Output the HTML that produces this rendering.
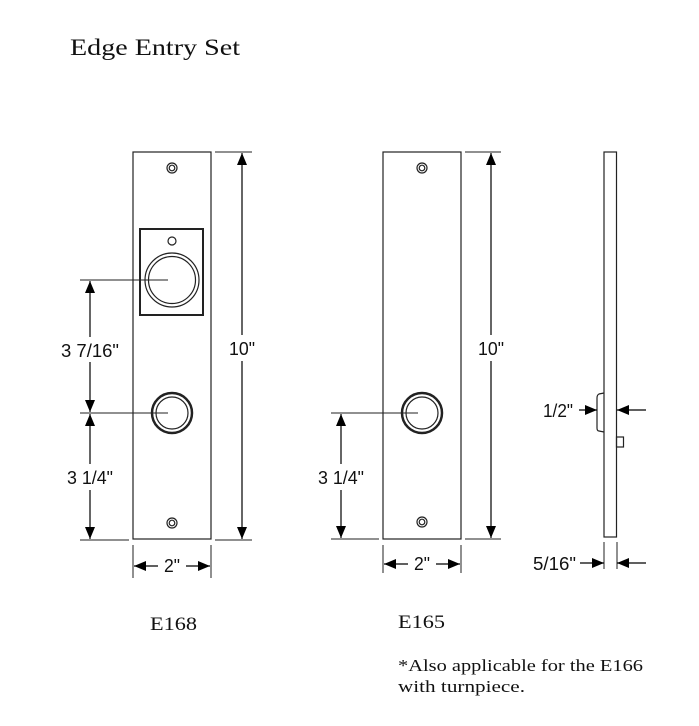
<!DOCTYPE html>
<html><head><meta charset="utf-8"><style>
html,body{margin:0;padding:0;background:#fff;width:699px;height:726px;overflow:hidden}
svg{display:block}
.s{font-family:"Liberation Serif",serif;fill:#111}
.d{font-family:"Liberation Sans",sans-serif;font-size:18px;fill:#111}
</style></head><body>
<svg width="699" height="726" viewBox="0 0 699 726" xmlns="http://www.w3.org/2000/svg">
<defs>
<marker id="a" viewBox="0 0 12 10" refX="12" refY="5" markerWidth="12" markerHeight="10" markerUnits="userSpaceOnUse" orient="auto-start-reverse"><path d="M0,0L12,5L0,10Z" fill="#000"/></marker>
</defs>
<text class="s" x="70" y="55" font-size="23" textLength="170" lengthAdjust="spacingAndGlyphs">Edge Entry Set</text>

<g stroke="#222" fill="none" stroke-width="1.2">
<rect x="133" y="152" width="78" height="387"/>
<circle cx="172" cy="168" r="5"/><circle cx="172" cy="168" r="2.8"/>
<rect x="140" y="229" width="63" height="86" stroke-width="2"/>
<circle cx="172" cy="241" r="4"/>
<circle cx="172" cy="280" r="27"/><circle cx="172" cy="280" r="23.5"/>
<circle cx="172" cy="413" r="20" stroke-width="2.5"/><circle cx="172" cy="413" r="16"/>
<circle cx="172" cy="523" r="5"/><circle cx="172" cy="523" r="2.8"/>
<line x1="80" y1="280" x2="168" y2="280" stroke-width="1"/>
<line x1="80" y1="413" x2="168" y2="413" stroke-width="1"/>
<line x1="80" y1="540" x2="129" y2="540" stroke-width="1"/>
<line x1="215" y1="152" x2="252" y2="152" stroke-width="1"/>
<line x1="215" y1="540" x2="252" y2="540" stroke-width="1"/>
<line x1="133" y1="545" x2="133" y2="578" stroke-width="1"/>
<line x1="211" y1="545" x2="211" y2="578" stroke-width="1"/>
<rect x="383" y="152" width="78" height="387"/>
<circle cx="422" cy="168" r="5"/><circle cx="422" cy="168" r="2.8"/>
<circle cx="422" cy="413" r="20" stroke-width="2.5"/><circle cx="422" cy="413" r="16"/>
<circle cx="422" cy="522" r="5"/><circle cx="422" cy="522" r="2.8"/>
<line x1="331" y1="413" x2="418" y2="413" stroke-width="1"/>
<line x1="331" y1="539" x2="379" y2="539" stroke-width="1"/>
<line x1="465" y1="152" x2="501" y2="152" stroke-width="1"/>
<line x1="465" y1="539" x2="501" y2="539" stroke-width="1"/>
<line x1="383" y1="545" x2="383" y2="573" stroke-width="1"/>
<line x1="461" y1="545" x2="461" y2="573" stroke-width="1"/>
<rect x="604" y="152" width="12.5" height="385"/>
<path d="M604,393 L599,394 Q597,395 597,398 L597,428 Q597,431 599,431 L604,432"/>
<rect x="616.5" y="437" width="7" height="10"/>
<line x1="604" y1="542" x2="604" y2="569" stroke-width="1"/>
<line x1="617" y1="542" x2="617" y2="569" stroke-width="1"/>
</g>

<g stroke="#000" stroke-width="1.2" fill="none">
<line x1="90" y1="337" x2="90" y2="281" marker-end="url(#a)"/>
<line x1="90" y1="362" x2="90" y2="412" marker-end="url(#a)"/>
<line x1="90" y1="464" x2="90" y2="414" marker-end="url(#a)"/>
<line x1="90" y1="490" x2="90" y2="539" marker-end="url(#a)"/>
<line x1="242" y1="335" x2="242" y2="153" marker-end="url(#a)"/>
<line x1="242" y1="361" x2="242" y2="539" marker-end="url(#a)"/>
<line x1="158" y1="566" x2="134" y2="566" marker-end="url(#a)"/>
<line x1="186" y1="566" x2="210" y2="566" marker-end="url(#a)"/>
<line x1="341" y1="464" x2="341" y2="414" marker-end="url(#a)"/>
<line x1="341" y1="490" x2="341" y2="538" marker-end="url(#a)"/>
<line x1="491" y1="335" x2="491" y2="153" marker-end="url(#a)"/>
<line x1="491" y1="361" x2="491" y2="538" marker-end="url(#a)"/>
<line x1="408" y1="564" x2="384" y2="564" marker-end="url(#a)"/>
<line x1="436" y1="564" x2="460" y2="564" marker-end="url(#a)"/>
<line x1="579" y1="410" x2="597" y2="410" marker-end="url(#a)"/>
<line x1="646" y1="410" x2="617" y2="410" marker-end="url(#a)"/>
<line x1="580" y1="563" x2="604" y2="563" marker-end="url(#a)"/>
<line x1="646" y1="563" x2="617" y2="563" marker-end="url(#a)"/>
</g>

<g class="d">
<text x="61" y="357" textLength="58" lengthAdjust="spacingAndGlyphs">3 7/16"</text>
<text x="67" y="484" textLength="46" lengthAdjust="spacingAndGlyphs">3 1/4"</text>
<text x="229" y="355" textLength="26" lengthAdjust="spacingAndGlyphs">10"</text>
<text x="164" y="572" textLength="16" lengthAdjust="spacingAndGlyphs">2"</text>
<text x="318" y="484" textLength="46" lengthAdjust="spacingAndGlyphs">3 1/4"</text>
<text x="478" y="355" textLength="26" lengthAdjust="spacingAndGlyphs">10"</text>
<text x="414" y="570" textLength="16" lengthAdjust="spacingAndGlyphs">2"</text>
<text x="543" y="417" textLength="30" lengthAdjust="spacingAndGlyphs">1/2"</text>
<text x="533" y="570" textLength="43" lengthAdjust="spacingAndGlyphs">5/16"</text>
</g>

<text class="s" x="150" y="630" font-size="19" textLength="47" lengthAdjust="spacingAndGlyphs">E168</text>
<text class="s" x="398" y="628" font-size="19" textLength="47" lengthAdjust="spacingAndGlyphs">E165</text>
<text class="s" x="398" y="671" font-size="17" textLength="245" lengthAdjust="spacingAndGlyphs">*Also applicable for the E166</text>
<text class="s" x="398" y="692" font-size="17" textLength="127" lengthAdjust="spacingAndGlyphs">with turnpiece.</text>
</svg>
</body></html>
